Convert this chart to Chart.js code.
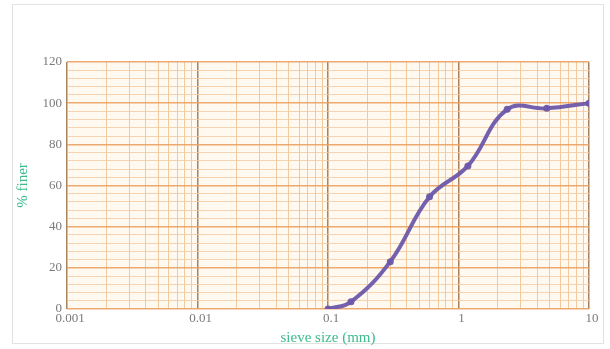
<!DOCTYPE html>
<html>
<head>
<meta charset="utf-8">
<script src="https://cdn.jsdelivr.net/npm/chart.js@4/dist/chart.umd.min.js"></script>
<style>
  body { margin: 0; background: #ffffff; }
  #wrap { width: 610px; height: 349px; }
</style>
</head>
<body>
<div id="wrap"><canvas id="gradationChart" width="610" height="349"></canvas></div>
<script>
// sieve analysis data
const sieveSizes = [0.1, 0.15, 0.3, 0.6, 1.18, 2.36, 4.75, 10];
const percentFiner = [0, 3.5, 23, 54.5, 69.5, 97, 97.5, 100];

const decadeLabels = [0.001, 0.01, 0.1, 1, 10];
const yTickLabels = [0, 20, 40, 60, 80, 100, 120];

function isDecade(v) {
    const l = Math.log10(v);
    return Math.abs(l - Math.round(l)) < 1e-9;
}

// plot background + outer frame
const backgroundPlugin = {
    id: 'backgroundPlugin',
    beforeDraw: function(chart) {
        const c = chart.ctx;
        const a = chart.chartArea;
        c.save();
        c.fillStyle = '#ffffff';
        c.fillRect(0, 0, chart.width, chart.height);
        c.strokeStyle = '#e2e2e2';
        c.lineWidth = 1;
        c.strokeRect(12.5, 4.5, 591, 339);
        c.fillStyle = '#fff9f0';
        c.fillRect(a.left, a.top, a.right - a.left, a.bottom - a.top);
        c.restore();
    }
};

const points = sieveSizes.map(function(s, i) { return { x: s, y: percentFiner[i] }; });

new Chart(document.getElementById('gradationChart'), {
    type: 'line',
    data: {
        datasets: [{
            data: points,
            borderColor: 'rgba(108, 88, 170, 0.95)',
            backgroundColor: 'rgba(108, 88, 170, 0.95)',
            borderWidth: 4,
            tension: 0.4,
            pointRadius: 3.5,
            pointBorderWidth: 0,
            fill: false
        }]
    },
    options: {
        responsive: false,
        animation: false,
        layout: {
            padding: { left: 12, right: 21, top: 62, bottom: 2 }
        },
        plugins: {
            legend: { display: false },
            tooltip: { enabled: false }
        },
        scales: {
            x: {
                type: 'logarithmic',
                min: 0.001,
                max: 10,
                afterBuildTicks: function(scale) {
                    const ticks = [];
                    for (let e = -3; e <= 0; e++) {
                        for (let m = 1; m <= 9; m++) {
                            ticks.push({ value: m * Math.pow(10, e) });
                        }
                    }
                    ticks.push({ value: 10 });
                    scale.ticks = ticks;
                },
                afterFit: function(scale) { scale.height = 38; },
                ticks: {
                    autoSkip: false,
                    maxRotation: 0,
                    padding: 2,
                    labelOffset: 3,
                    color: '#7a7a7a',
                    font: { family: 'Liberation Serif', size: 13 },
                    callback: function(value) {
                        const hit = decadeLabels.find(function(d) { return Math.abs(d - value) / d < 1e-9; });
                        return hit !== undefined ? String(hit) : '';
                    }
                },
                grid: {
                    drawTicks: false,
                    color: function(ctx) {
                        return ctx.tick && isDecade(ctx.tick.value) ? 'rgba(150, 110, 70, 0.85)' : 'rgba(240, 190, 140, 0.8)';
                    },
                    lineWidth: function(ctx) {
                        return ctx.tick && isDecade(ctx.tick.value) ? 1.5 : 1;
                    }
                },
                border: { display: false },
                title: {
                    display: true,
                    text: 'sieve size (mm)',
                    color: '#3dbb8c',
                    padding: { top: 0, bottom: 0 },
                    font: { family: 'Liberation Serif', size: 15 }
                }
            },
            y: {
                min: 0,
                max: 120,
                afterFit: function(scale) { scale.width = 55; },
                ticks: {
                    stepSize: 4,
                    autoSkip: false,
                    padding: 5,
                    color: '#7a7a7a',
                    font: { family: 'Liberation Serif', size: 13 },
                    callback: function(value) {
                        return yTickLabels.indexOf(value) >= 0 ? String(value) : '';
                    }
                },
                grid: {
                    drawTicks: false,
                    color: function(ctx) {
                        return ctx.tick && ctx.tick.value % 20 === 0 ? 'rgba(235, 160, 95, 0.9)' : 'rgba(242, 200, 160, 0.8)';
                    },
                    lineWidth: function(ctx) {
                        return ctx.tick && ctx.tick.value % 20 === 0 ? 1.5 : 1;
                    }
                },
                border: { display: false },
                title: {
                    display: true,
                    text: '% finer',
                    color: '#3dbb8c',
                    padding: { top: 2, bottom: 0 },
                    font: { family: 'Liberation Serif', size: 15 }
                }
            }
        }
    },
    plugins: [backgroundPlugin]
});
</script>
</body>
</html>
